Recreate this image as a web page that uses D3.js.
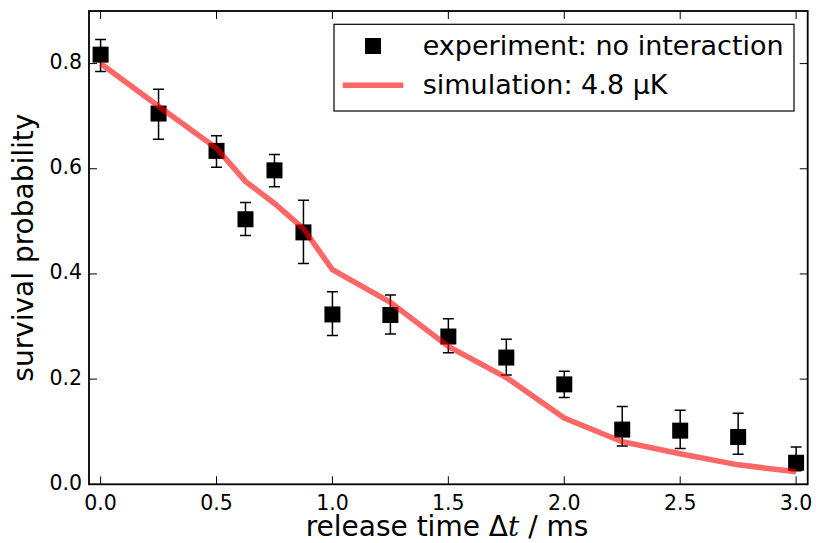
<!DOCTYPE html>
<html>
<head>
<meta charset="utf-8">
<script src="https://cdn.jsdelivr.net/npm/d3@7"></script>
<style>
  html, body { margin: 0; padding: 0; background: #fff; }
  svg { display: block; font-family: "DejaVu Sans", sans-serif; }
</style>
</head>
<body>
<svg id="chart" width="816" height="543"></svg>
<script>
// Release time (ms) at which survival was measured / simulated
const releaseTimes = [0, 0.25, 0.5, 0.625, 0.75, 0.875, 1.0, 1.25, 1.5, 1.75, 2.0, 2.25, 2.5, 2.75, 3.0];
// Measured survival probability (no interaction) with lower / upper error bounds
const experiment = [0.817, 0.705, 0.634, 0.504, 0.597, 0.479, 0.323, 0.322, 0.281, 0.241, 0.190, 0.104, 0.102, 0.090, 0.041];
const errLower   = [0.785, 0.656, 0.603, 0.473, 0.566, 0.420, 0.283, 0.286, 0.250, 0.208, 0.165, 0.073, 0.068, 0.057, 0.026];
const errUpper   = [0.846, 0.751, 0.663, 0.536, 0.627, 0.540, 0.366, 0.360, 0.315, 0.276, 0.215, 0.148, 0.141, 0.135, 0.071];
// Simulated survival for a 4.8 µK ensemble
const simulation = [0.800, 0.719, 0.639, 0.576, 0.534, 0.486, 0.408, 0.346, 0.262, 0.203, 0.126, 0.081, 0.058, 0.037, 0.024];

const xTicks = [0, 0.5, 1.0, 1.5, 2.0, 2.5, 3.0];
const yTicks = [0, 0.2, 0.4, 0.6, 0.8];
const legendLabels = ["experiment: no interaction", "simulation: 4.8 \u00b5K"];

const W = 816, H = 543;
const margin = { left: 89, right: 8.3, top: 11, bottom: 58.7 };
const svg = d3.select("#chart");

const x = d3.scaleLinear().domain([-0.05, 3.05]).range([margin.left, W - margin.right]);
const y = d3.scaleLinear().domain([0, 0.9]).range([H - margin.bottom, margin.top]);

const simColor = "#ff0000";
const tickLen = 8;

// clip region for the plot area
svg.append("defs").append("clipPath").attr("id", "plotclip")
  .append("rect")
  .attr("x", x.range()[0]).attr("y", y.range()[1])
  .attr("width", x.range()[1] - x.range()[0])
  .attr("height", y.range()[0] - y.range()[1]);

const plot = svg.append("g").attr("clip-path", "url(#plotclip)");

const pts = releaseTimes.map((t, i) => ({
  t, v: experiment[i], lo: errLower[i], hi: errUpper[i], s: simulation[i]
}));

// error bars
const eb = plot.append("g").attr("stroke", "#000").attr("stroke-width", 1.5).attr("fill", "none");
pts.forEach(d => {
  eb.append("line").attr("x1", x(d.t)).attr("x2", x(d.t)).attr("y1", y(d.lo)).attr("y2", y(d.hi));
  eb.append("line").attr("x1", x(d.t) - 5.5).attr("x2", x(d.t) + 5.5).attr("y1", y(d.lo)).attr("y2", y(d.lo));
  eb.append("line").attr("x1", x(d.t) - 5.5).attr("x2", x(d.t) + 5.5).attr("y1", y(d.hi)).attr("y2", y(d.hi));
});

// square markers
const sq = 16;
plot.append("g").selectAll("rect").data(pts).join("rect")
  .attr("x", d => x(d.t) - sq / 2)
  .attr("y", d => y(d.v) - sq / 2)
  .attr("width", sq).attr("height", sq)
  .attr("fill", "#000");

// simulation curve, drawn translucent on top of the markers
const line = d3.line().x(d => x(d.t)).y(d => y(d.s));
plot.append("path")
  .datum(pts)
  .attr("d", line)
  .attr("fill", "none")
  .attr("stroke", simColor)
  .attr("stroke-opacity", 0.6)
  .attr("stroke-width", 5.5)
  .attr("stroke-linejoin", "miter");

// axes: inward ticks on all four sides
const x0 = x.range()[0], x1 = x.range()[1], yb = y.range()[0], yt = y.range()[1];
const ticks = svg.append("g").attr("stroke", "#000").attr("stroke-width", 1);
xTicks.forEach(t => {
  ticks.append("line").attr("x1", x(t)).attr("x2", x(t)).attr("y1", yb).attr("y2", yb - tickLen);
  ticks.append("line").attr("x1", x(t)).attr("x2", x(t)).attr("y1", yt).attr("y2", yt + tickLen);
});
yTicks.forEach(t => {
  ticks.append("line").attr("x1", x0).attr("x2", x0 + tickLen).attr("y1", y(t)).attr("y2", y(t));
  ticks.append("line").attr("x1", x1).attr("x2", x1 - tickLen).attr("y1", y(t)).attr("y2", y(t));
});

// frame
svg.append("rect")
  .attr("x", x0).attr("y", yt)
  .attr("width", x1 - x0).attr("height", yb - yt)
  .attr("fill", "none").attr("stroke", "#000").attr("stroke-width", 1.8);

// tick labels
const tickFont = 20.5;
svg.append("g").selectAll("text").data(xTicks).join("text")
  .attr("x", d => x(d)).attr("y", 509.5)
  .attr("text-anchor", "middle")
  .attr("font-size", tickFont)
  .text(d => d.toFixed(1));
svg.append("g").selectAll("text").data(yTicks).join("text")
  .attr("x", 82).attr("y", d => y(d) + 5.5)
  .attr("text-anchor", "end")
  .attr("font-size", tickFont)
  .text(d => d.toFixed(1));

// axis titles
const labelFont = 28;
const xl = svg.append("text")
  .attr("x", 447).attr("y", 535.5)
  .attr("text-anchor", "middle")
  .attr("font-size", labelFont);
xl.append("tspan").text("release time \u0394");
xl.append("tspan").attr("font-family", "'DejaVu Serif', serif").attr("font-style", "italic").text("t");
xl.append("tspan").text(" / ms");

svg.append("text")
  .attr("transform", `translate(32.5, ${(yt + yb) / 2}) rotate(-90)`)
  .attr("text-anchor", "middle")
  .attr("font-size", labelFont)
  .text("survival probability");

// legend
const legendFont = 27;
const lg = svg.append("g");
lg.append("rect")
  .attr("x", 334).attr("y", 24.3).attr("width", 460).attr("height", 86.7)
  .attr("fill", "#fff").attr("stroke", "#000").attr("stroke-width", 1.2);
lg.append("rect")
  .attr("x", 373 - 8).attr("y", 46 - 8).attr("width", 16).attr("height", 16)
  .attr("fill", "#000");
lg.append("line")
  .attr("x1", 342.7).attr("x2", 403.3).attr("y1", 85.3).attr("y2", 85.3)
  .attr("stroke", simColor).attr("stroke-opacity", 0.6).attr("stroke-width", 5.5);
lg.append("text").attr("x", 422.7).attr("y", 55).attr("font-size", legendFont).text(legendLabels[0]);
lg.append("text").attr("x", 422.7).attr("y", 94).attr("font-size", legendFont).text(legendLabels[1]);
</script>
</body>
</html>
